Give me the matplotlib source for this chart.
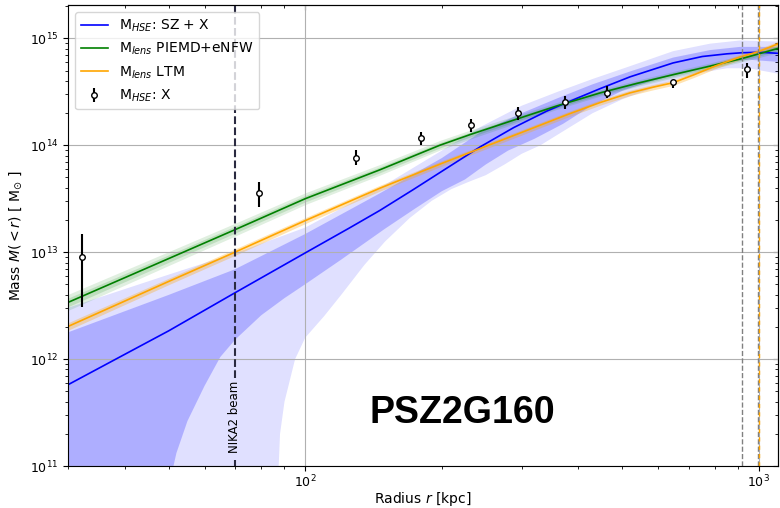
import matplotlib.pyplot as plt
import numpy as np
from matplotlib.ticker import NullFormatter

# Perfiles de masa PSZ2G160 (r en kpc, log10 M en M_sun)
r_hse = [30, 40, 50, 70, 100, 125, 146, 173, 205, 243, 288, 341, 400, 447, 520, 647,
         750, 850, 916, 1000, 1100]
logM_hse = [11.76, 12.044, 12.264, 12.62, 12.993, 13.225, 13.39, 13.585, 13.785, 13.985,
            14.165, 14.32, 14.445, 14.53, 14.64, 14.77, 14.83, 14.855, 14.865, 14.87, 14.86]

# bordes superiores de las bandas HSE (1 y 2 sigma)
r_hse_hi = [30, 50, 70, 100, 146, 200, 243, 300, 360, 430, 520, 647, 780, 908, 1100]
logM_hse_hi1 = [12.25, 12.60, 12.84, 13.17, 13.55, 13.88, 14.12, 14.30, 14.44, 14.57,
                14.69, 14.82, 14.89, 14.92, 14.92]
logM_hse_hi2 = [12.48, 12.79, 12.99, 13.23, 13.60, 13.95, 14.17, 14.37, 14.50, 14.62,
                14.74, 14.88, 14.95, 14.98, 14.97]

# bordes inferiores (bajan por debajo del eje a radios chicos)
r_hse_lo1 = [30, 50, 52, 55, 60, 65, 70, 80, 90, 100, 120, 150, 175, 200, 225, 250, 280,
             320, 370, 424, 500, 580, 650, 750, 850, 950, 1100]
logM_hse_lo1 = [9.5, 10.8, 11.12, 11.42, 11.75, 12.02, 12.18, 12.41, 12.57, 12.70, 12.93,
                13.22, 13.41, 13.57, 13.68, 13.82, 13.95, 14.06, 14.20, 14.36, 14.51,
                14.60, 14.66, 14.73, 14.78, 14.80, 14.78]

r_hse_lo2 = [30, 87, 88, 90, 95, 100, 110, 120, 135, 150, 170, 190, 210, 230, 250, 275,
             300, 330, 380, 430, 500, 580, 650, 750, 850, 950, 1100]
logM_hse_lo2 = [9.5, 10.8, 11.3, 11.6, 12.0, 12.2, 12.4, 12.6, 12.88, 13.1, 13.32, 13.48,
                13.59, 13.66, 13.72, 13.82, 13.92, 14.0, 14.16, 14.30, 14.43, 14.53,
                14.61, 14.68, 14.72, 14.72, 14.67]

r_piemd = [30, 50, 70, 100, 146, 198, 231, 300, 360, 447, 540, 647, 780, 916, 1000, 1100]
logM_piemd = [12.53, 12.94, 13.21, 13.50, 13.77, 14.0, 14.10, 14.26, 14.37, 14.49, 14.58,
              14.66, 14.74, 14.81, 14.855, 14.905]
ancho_piemd_2 = [0.075, 0.065, 0.06, 0.055, 0.05, 0.045, 0.042, 0.036, 0.032, 0.03, 0.03,
                 0.03, 0.03, 0.03, 0.035, 0.04]
ancho_piemd_1 = [0.04, 0.035, 0.032, 0.03, 0.027, 0.025, 0.023, 0.02, 0.018, 0.017, 0.017,
                 0.017, 0.017, 0.017, 0.02, 0.022]

r_ltm = [30, 50, 70, 100, 146, 200, 250, 300, 380, 447, 520, 580, 647, 720, 800, 908, 1000, 1100]
logM_ltm = [12.305, 12.726, 13.0, 13.295, 13.598, 13.83, 13.99, 14.12, 14.29, 14.40, 14.49,
            14.54, 14.585, 14.66, 14.74, 14.825, 14.877, 14.947]
ancho_ltm = [0.035, 0.03, 0.03, 0.028, 0.027, 0.025, 0.025, 0.025, 0.025, 0.025, 0.025,
             0.025, 0.025, 0.025, 0.025, 0.025, 0.025, 0.025]

# puntos X (HSE)
r_x = [32.2, 78.9, 129.5, 180, 232, 295, 373, 463, 647, 942]
logM_x = [12.959, 13.55, 13.88, 14.065, 14.19, 14.305, 14.40, 14.49, 14.59, 14.71]
logM_x_lo = [12.49, 13.42, 13.816, 14.003, 14.127, 14.24, 14.34, 14.44, 14.54, 14.63]
logM_x_hi = [13.171, 13.66, 13.956, 14.127, 14.25, 14.36, 14.46, 14.55, 14.61, 14.77]

r_nika2 = 70
r500_hse = 916
r500_lens = 1000


def M(lm):
    return 10 ** np.array(lm)


fig = plt.figure(figsize=(7.8, 5.08), dpi=100)
ax = fig.add_axes([68 / 780, 1 - 466 / 508, 709.7 / 780, 461 / 508])

# bandas HSE (2 sigma y 1 sigma)
ax.fill(np.concatenate([r_hse_hi, r_hse_lo2[::-1]]),
        np.concatenate([M(logM_hse_hi2), M(logM_hse_lo2)[::-1]]),
        color='blue', alpha=0.12, lw=0)
ax.fill(np.concatenate([r_hse_hi, r_hse_lo1[::-1]]),
        np.concatenate([M(logM_hse_hi1), M(logM_hse_lo1)[::-1]]),
        color='blue', alpha=0.22, lw=0)

# bandas lensing
lp = np.array(logM_piemd)
ax.fill_between(r_piemd, M(lp - ancho_piemd_2), M(lp + ancho_piemd_2), color='green', alpha=0.12, lw=0)
ax.fill_between(r_piemd, M(lp - ancho_piemd_1), M(lp + ancho_piemd_1), color='green', alpha=0.15, lw=0)
ll = np.array(logM_ltm)
ax.fill_between(r_ltm, M(ll - ancho_ltm), M(ll + ancho_ltm), color='orange', alpha=0.3, lw=0)

ax.plot(r_hse, M(logM_hse), '-', color='blue', lw=1.2, label=r'M$_{HSE}$: SZ + X')
ax.plot(r_piemd, M(logM_piemd), '-', color='green', lw=1.2, label=r'M$_{lens}$ PIEMD+eNFW')
ax.plot(r_ltm, M(logM_ltm), '-', color='orange', lw=1.2, label=r'M$_{lens}$ LTM')

mx = M(logM_x)
ax.errorbar(r_x, mx, yerr=[mx - M(logM_x_lo), M(logM_x_hi) - mx], fmt='o', color='k',
            mfc='white', mec='k', ms=4, elinewidth=1.5, capsize=0, label=r'M$_{HSE}$: X', zorder=5)

# lineas verticales
ax.axvline(r_nika2, ymin=0.19, ymax=1, color='#2a2a40', ls='--', lw=1.5)
ax.axvline(r_nika2, ymin=0, ymax=0.013, color='#2a2a40', ls='--', lw=1.5)
ax.text(r_nika2, 2.9e11, 'NIKA2 beam', rotation=90, ha='center', va='center', fontsize=8.5)
ax.axvline(r500_hse, color='gray', ls='--', lw=1)
ax.axvline(r500_lens * 0.995, color='gray', ls='--', lw=1)
ax.axvline(r500_lens, color='orange', ls='--', lw=1, dashes=(3, 3))

ax.text(222, 3.15e11, 'PSZ2G160', ha='center', va='center', fontsize=27,
        fontweight='bold', family='Liberation Sans')

ax.set_xscale('log')
ax.set_yscale('log')
ax.set_xlim(30, 1100)
ax.set_ylim(1e11, 2.05e15)
ax.xaxis.set_minor_formatter(NullFormatter())
ax.yaxis.set_minor_formatter(NullFormatter())
ax.tick_params(labelsize=9)
ax.tick_params(axis='x', pad=2)
ax.grid(True, which='major', color='#b0b0b0', lw=0.8)
ax.set_xlabel(r'Radius $r$ [kpc]', fontsize=10, labelpad=0)
ax.set_ylabel(r'Mass $M(<r)$ [ M$_{\odot}$ ]', fontsize=10)

arriba = ax.secondary_xaxis('top')
arriba.tick_params(which='both', direction='in', labeltop=False)
derecha = ax.secondary_yaxis('right')
derecha.tick_params(which='both', direction='in', labelright=False)

ax.legend(loc='upper left', fontsize=10)

plt.savefig('out.png', dpi=100)
